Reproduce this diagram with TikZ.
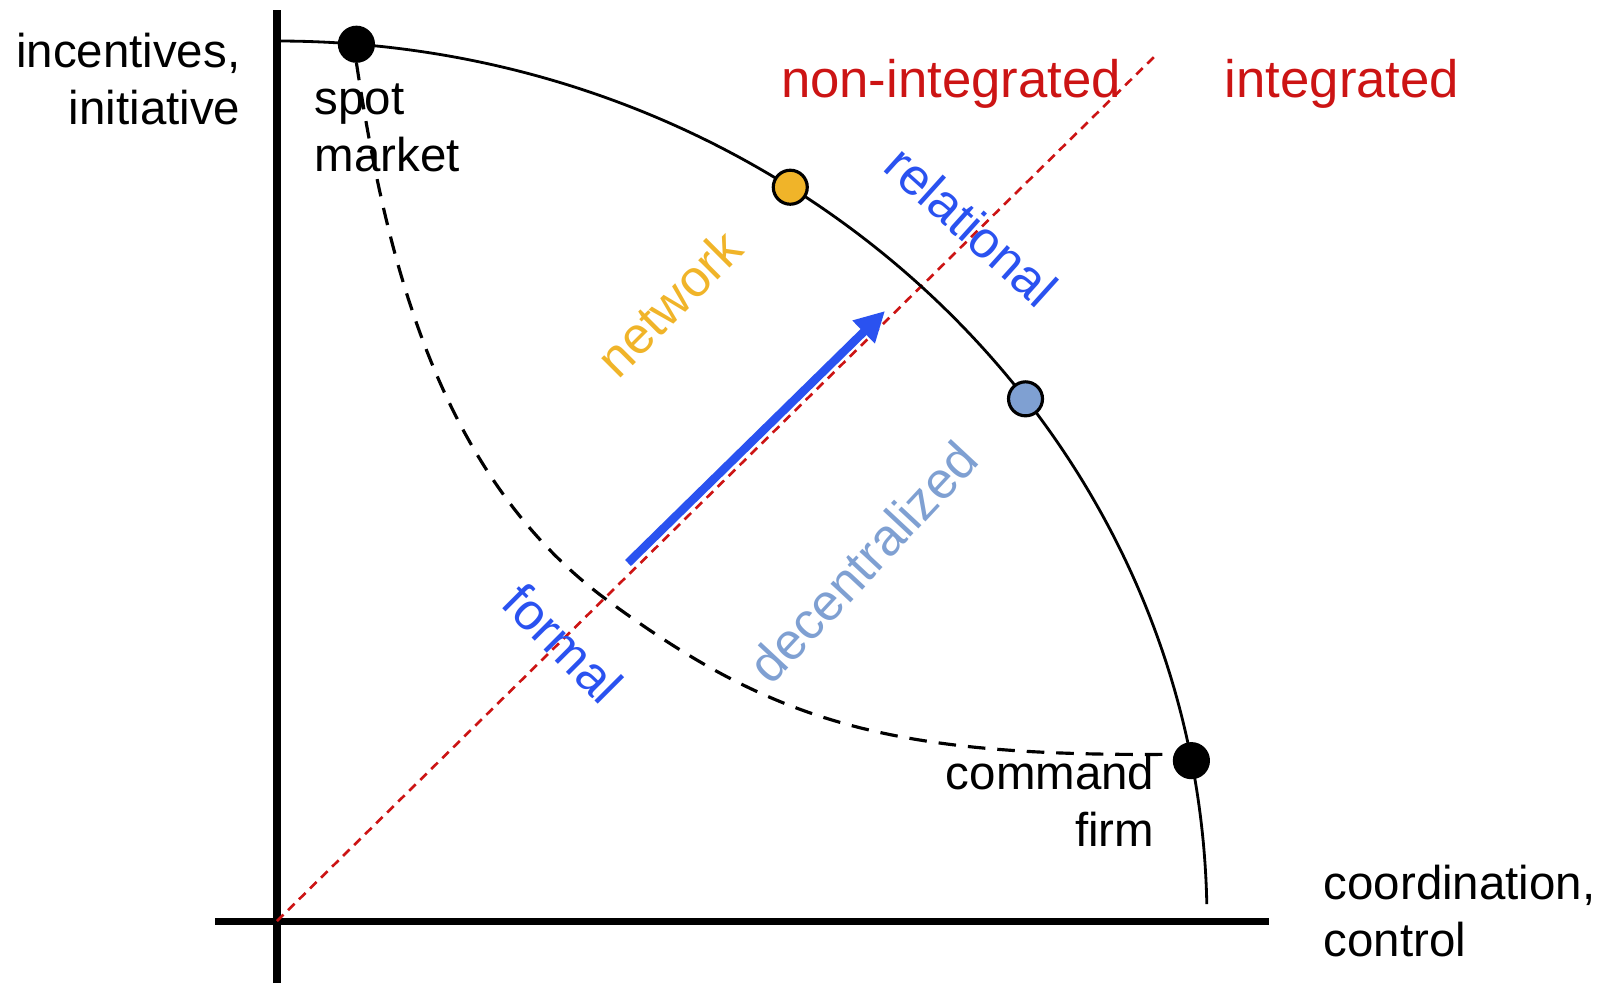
\documentclass[tikz,border=0pt]{standalone}
\usepackage{fontspec}
\setmainfont{Liberation Sans}
\usetikzlibrary{arrows.meta}

\definecolor{redlbl}{RGB}{204,20,20}
\definecolor{netorange}{RGB}{240,180,41}
\definecolor{arrowblue}{RGB}{42,82,240}
\definecolor{decblue}{RGB}{127,160,210}

\begin{document}
\begin{tikzpicture}
    % Define styles
    \tikzstyle{axisline} = [line width=2pt, black]
    \tikzstyle{frontier} = [line width=0.8pt, black]
    \tikzstyle{innerarc} = [line width=0.9pt, black, dash pattern=on 5pt off 3.4pt]
    \tikzstyle{diag} = [line width=0.75pt, redlbl, dash pattern=on 2.6pt off 1.8pt]
    \tikzstyle{dotnode} = [circle, draw=black, line width=0.9pt, inner sep=0pt, minimum size=0.34cm]
    \tikzstyle{lbl} = [font=\fontsize{13.5}{16.2}\selectfont, inner sep=0pt]
    \tikzstyle{side} = [font=\fontsize{15}{18}\selectfont, inner sep=0pt, text=redlbl]
    \tikzstyle{slanted} = [font=\fontsize{14.7}{17}\selectfont, inner sep=0pt]
    \tikzstyle{arrow} = [line width=2.4pt, arrowblue, -{Triangle[length=0.3cm, width=0.3cm]}]

    \useasboundingbox (0,0) rectangle (16.02,9.83);

    % Axes
    \coordinate (O) at (2.77,0.62);
    \coordinate (xl) at (2.15,0.62);
    \coordinate (xr) at (12.69,0.62);
    \coordinate (yb) at (2.77,0);
    \coordinate (yt) at (2.77,9.73);
    \draw [axisline] (xl) -- (xr);
    \draw [axisline] (yb) -- (yt);

    % Diagonal
    \coordinate (diagend) at (11.57,9.29);
    \draw [diag] (O) -- (diagend);

    % Frontier
    \draw [frontier] (O) ++(90:9.3 and 8.8) arc[start angle=90, end angle=1.1, x radius=9.3, y radius=8.8];

    % Dots
    \node (spot) [dotnode, fill=black] at ([shift={(85.1:9.3 and 8.8)}]O) {};
    \node (net) [dotnode, fill=netorange] at ([shift={(56.5:9.3 and 8.8)}]O) {};
    \node (dec) [dotnode, fill=decblue] at ([shift={(36.4:9.3 and 8.8)}]O) {};
    \node (firm) [dotnode, fill=black] at ([shift={(10.5:9.3 and 8.8)}]O) {};

    % Inner curve
    \coordinate (bend) at (6.07,3.83);
    \draw [innerarc] (spot.south) .. controls (3.85,7.32) and (4.36,5.09) .. (bend)
        .. controls (7.73,2.61) and (8.88,2.26) .. (firm.160);

    % Arrow
    \coordinate (ar0) at (6.28,4.20);
    \coordinate (ar1) at (8.85,6.72);
    \draw [arrow] (ar0) -- (ar1);

    % Labels
    \node (yaxis) [lbl, anchor=east, align=right] at (2.41,9.04) {incentives,\\initiative};
    \node (xaxis) [lbl, anchor=west, align=left] at (13.23,0.72) {coordination,\\control};
    \node (spotlbl) [lbl, anchor=west, align=left] at (3.14,8.55) {spot\\market};
    \node (firmlbl) [lbl, anchor=east, align=right] at (11.55,1.82) {command\\firm};
    \node (nonint) [side] at (9.51,8.99) {non-integrated};
    \node (integ) [side] at (13.42,8.99) {integrated};
    \node (netlbl) [slanted, text=netorange, rotate=45] at (6.69,6.80) {network};
    \node (rellbl) [slanted, text=arrowblue, rotate=-42] at (9.72,7.57) {relational};
    \node (formlbl) [slanted, text=arrowblue, rotate=-45] at (5.63,3.40) {formal};
    \node (declbl) [slanted, text=decblue, rotate=47] at (8.63,4.21) {decentralized};
\end{tikzpicture}
\end{document}
